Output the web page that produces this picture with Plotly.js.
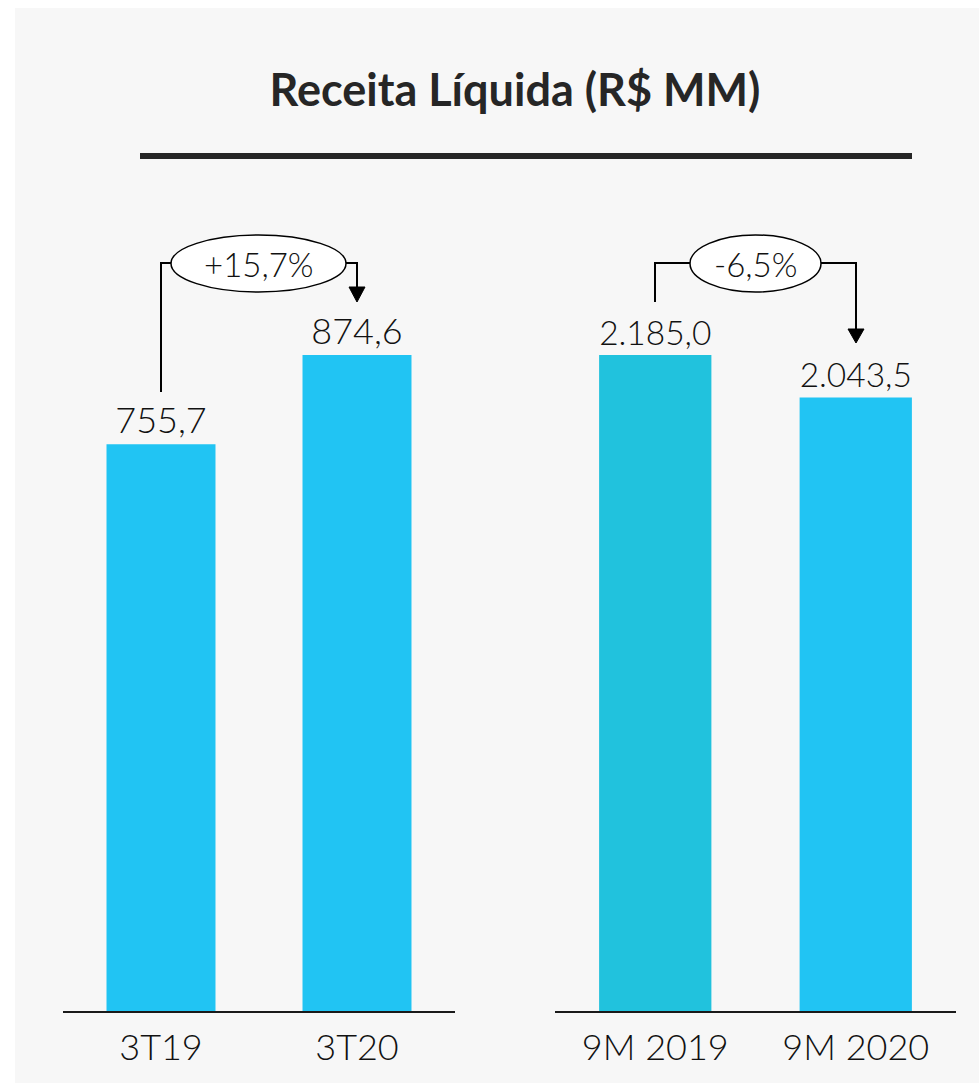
<!DOCTYPE html>
<html>
<head>
<meta charset="utf-8">
<script src="https://cdn.plot.ly/plotly-3.0.1.min.js"></script>
<style>html,body{margin:0;padding:0;background:#fff;}#chart{width:979px;height:1083px;}</style>
</head>
<body>
<div id="chart"></div>
<script>
// ---- data ----
const quarterCategories = ["3T19", "3T20"];
const quarterValues = [755.7, 874.6];
const ytdCategories = ["9M 2019", "9M 2020"];
const ytdValues = [2185.0, 2043.5];
const quarterChange = "+15,7%";
const ytdChange = "-6,5%";
const chartTitle = "Receita Líquida (R$ MM)";

// ---- layout helpers ----
const W = 979, H = 1083;
const px = v => v / W;
const py = v => 1 - v / H;
const FONT = "Lato, 'DejaVu Sans', sans-serif";
const baseline = 1011, plotTop = 200;
const plotH = baseline - plotTop;
// tallest bar of each panel reaches y=355 px
const tallTopPx = 355;
const leftMax = Math.max(...quarterValues) * plotH / (baseline - tallTopPx);
const rightMax = Math.max(...ytdValues) * plotH / (baseline - tallTopPx);

const blue = "#21C4F3", teal = "#21C2DD";

const labelFont = {family: FONT, size: 36, color: "#111", weight: 300};

const traces = [
  {
    type: "bar", x: quarterCategories, y: quarterValues, xaxis: "x", yaxis: "y",
    marker: {color: [blue, blue]}, width: 0.556,
    texttemplate: "%{y:,.1f}", textposition: "outside", cliponaxis: false,
    textfont: labelFont, hoverinfo: "skip"
  },
  {
    type: "bar", x: ytdCategories, y: ytdValues, xaxis: "x2", yaxis: "y2",
    marker: {color: [teal, blue]}, width: 0.56,
    texttemplate: "%{y:,.1f}", textposition: "outside", cliponaxis: false,
    textfont: labelFont, hoverinfo: "skip"
  }
];

const axisX = {
  type: "category", range: [-0.5, 1.5], showline: true, linecolor: "#1a1a1a", linewidth: 2,
  ticks: "", showgrid: false, zeroline: false, fixedrange: true,
  tickfont: {family: FONT, size: 36, color: "#111", weight: 300}, ticklabelstandoff: 4
};
const axisY = {visible: false, showgrid: false, zeroline: false, fixedrange: true};

const line = {color: "#000", width: 2};
const shapes = [
  // panel background
  {type: "rect", xref: "paper", yref: "paper", x0: px(15), x1: 1, y0: 0, y1: py(8),
   fillcolor: "#f7f7f7", line: {width: 0}, layer: "below"},
  // title underline
  {type: "rect", xref: "paper", yref: "paper", x0: px(140), x1: px(912), y0: py(159), y1: py(153),
   fillcolor: "#262626", line: {width: 0}},
  // left bracket
  {type: "path", xref: "paper", yref: "paper",
   path: `M ${px(161)} ${py(392)} L ${px(161)} ${py(263)} L ${px(172)} ${py(263)}`, line: line},
  {type: "path", xref: "paper", yref: "paper",
   path: `M ${px(345)} ${py(263)} L ${px(357)} ${py(263)} L ${px(357)} ${py(289)}`, line: line},
  {type: "path", xref: "paper", yref: "paper",
   path: `M ${px(349)} ${py(287)} L ${px(365)} ${py(287)} L ${px(357)} ${py(302)} Z`,
   fillcolor: "#000", line: {color: "#000", width: 1}},
  {type: "circle", xref: "paper", yref: "paper", x0: px(171), x1: px(346), y0: py(292), y1: py(235),
   fillcolor: "#fff", line: {color: "#000", width: 1.5}},
  // right bracket
  {type: "path", xref: "paper", yref: "paper",
   path: `M ${px(655)} ${py(302)} L ${px(655)} ${py(263)} L ${px(691)} ${py(263)}`, line: line},
  {type: "path", xref: "paper", yref: "paper",
   path: `M ${px(820)} ${py(263)} L ${px(856)} ${py(263)} L ${px(856)} ${py(331)}`, line: line},
  {type: "path", xref: "paper", yref: "paper",
   path: `M ${px(848)} ${py(329)} L ${px(864)} ${py(329)} L ${px(856)} ${py(343)} Z`,
   fillcolor: "#000", line: {color: "#000", width: 1}},
  {type: "circle", xref: "paper", yref: "paper", x0: px(690), x1: px(821), y0: py(292), y1: py(235),
   fillcolor: "#fff", line: {color: "#000", width: 1.5}}
];

const annotations = [
  {text: quarterChange, xref: "paper", yref: "paper", x: px(259), y: py(264), showarrow: false,
   xanchor: "center", yanchor: "middle", font: {family: FONT, size: 33, color: "#111", weight: 300}},
  {text: ytdChange, xref: "paper", yref: "paper", x: px(755), y: py(264), showarrow: false,
   xanchor: "center", yanchor: "middle", font: {family: FONT, size: 33, color: "#111", weight: 300}}
];

const layout = {
  width: W, height: H,
  margin: {l: 0, r: 0, t: 0, b: 0},
  paper_bgcolor: "#ffffff", plot_bgcolor: "rgba(0,0,0,0)",
  separators: ",.",
  showlegend: false,
  title: {text: chartTitle, xref: "paper", yref: "paper", x: px(515), y: py(90),
          xanchor: "center", yanchor: "middle",
          font: {family: FONT, size: 45, color: "#262626", weight: 700}},
  xaxis: Object.assign({}, axisX, {domain: [px(63), px(455)], anchor: "y"}),
  yaxis: Object.assign({}, axisY, {domain: [py(baseline), py(plotTop)], range: [0, leftMax], anchor: "x"}),
  xaxis2: Object.assign({}, axisX, {domain: [px(555), px(956)], anchor: "y2"}),
  yaxis2: Object.assign({}, axisY, {domain: [py(baseline), py(plotTop)], range: [0, rightMax], anchor: "x2"}),
  shapes: shapes,
  annotations: annotations
};

Plotly.newPlot("chart", traces, layout, {displayModeBar: false, staticPlot: true});
</script>
</body>
</html>
